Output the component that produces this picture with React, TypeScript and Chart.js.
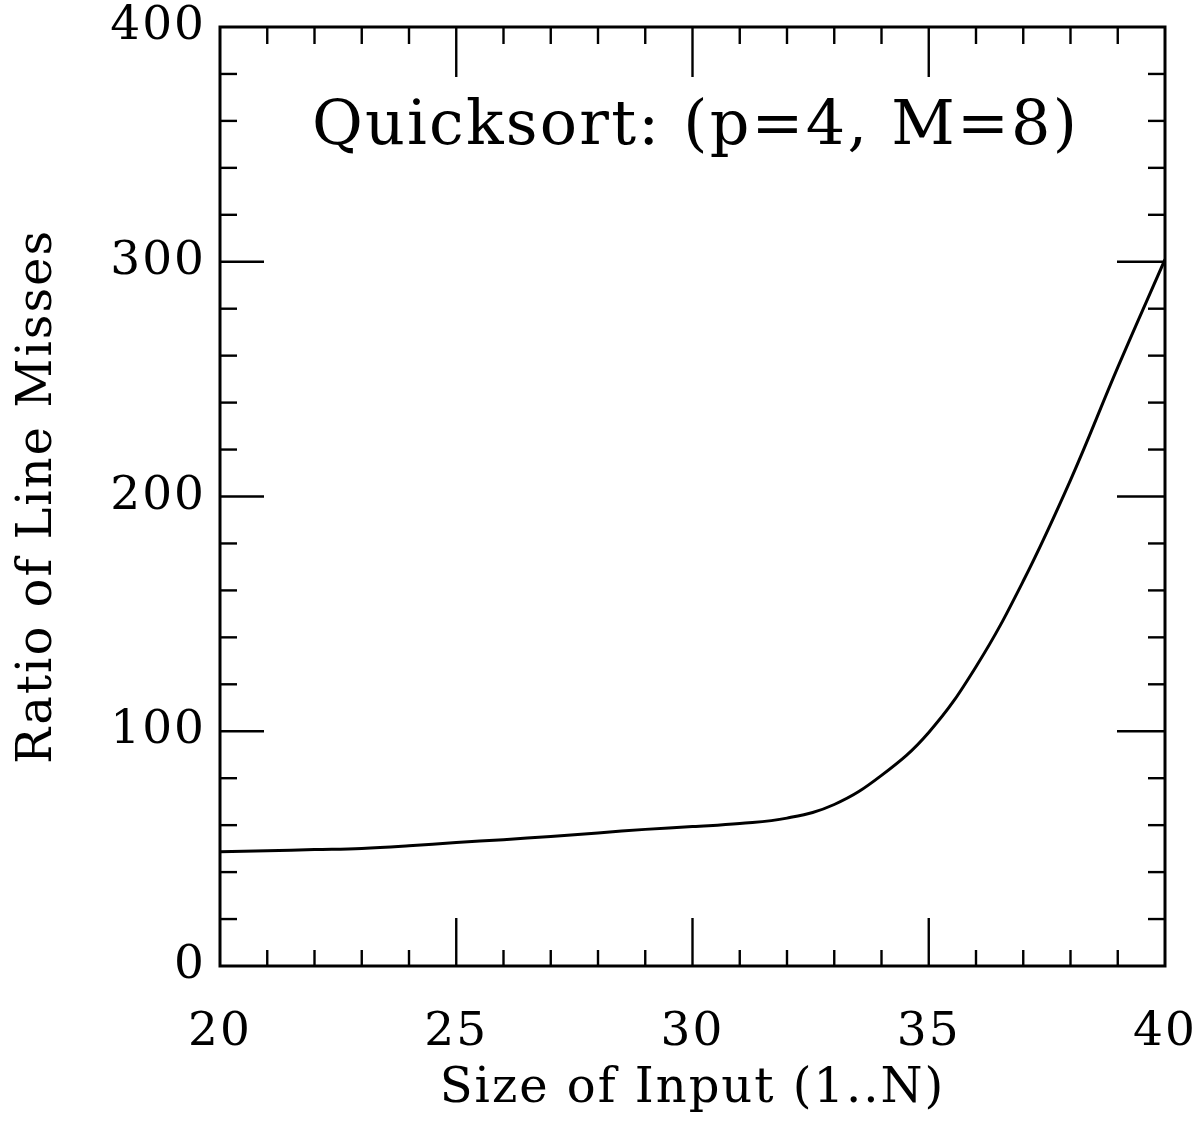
import React, { useEffect, useRef } from 'react';
import { Chart, registerables } from 'chart.js';

Chart.register(...registerables);

const sizes = [20, 21, 22, 23, 24, 25, 26, 27, 28, 29, 30, 31, 32, 33, 34, 35, 36, 37, 38, 39, 40];
const ratios = [48.7, 49.1, 49.6, 50.1, 51.2, 52.6, 53.8, 55.2, 56.7, 58.2, 59.4, 60.7, 63.0, 68.8, 81.2, 99.5, 127.5, 164, 207, 255, 301];
const xMajorEvery = 5;
const yMajorEvery = 100;
const titleText = 'Quicksort: (p=4, M=8)';
const xTitle = 'Size of Input (1..N)';
const yTitle = 'Ratio of Line Misses';

const FONT = '"DejaVu Serif", "Liberation Serif", serif';

const spacing = {
  id: 'spacing',
  beforeDraw(chart: any) {
    chart.ctx.letterSpacing = '2px';
  },
  afterDraw(chart: any) {
    chart.ctx.letterSpacing = '0px';
  },
};

const frameTicks = {
  id: 'frameTicks',
  afterDraw(chart: any) {
    const { ctx, chartArea, scales } = chart;
    const { left, right, top, bottom } = chartArea;
    const x = scales.x;
    const y = scales.y;
    ctx.save();
    ctx.strokeStyle = '#000';
    ctx.lineCap = 'butt';
    ctx.lineWidth = 2.4;
    const seg = (x1: number, y1: number, x2: number, y2: number) => {
      ctx.beginPath();
      ctx.moveTo(x1, y1);
      ctx.lineTo(x2, y2);
      ctx.stroke();
    };
    x.ticks.forEach((t: any) => {
      if (t.value <= x.min || t.value >= x.max) return;
      const px = x.getPixelForValue(t.value);
      const major = t.value % xMajorEvery === 0;
      seg(px, bottom, px, bottom - (major ? 48 : 16));
      seg(px, top, px, top + (major ? 50 : 17));
    });
    y.ticks.forEach((t: any) => {
      if (t.value <= y.min || t.value >= y.max) return;
      const py = y.getPixelForValue(t.value);
      const major = t.value % yMajorEvery === 0;
      seg(left, py, left + (major ? 44 : 17), py);
      seg(right, py, right - (major ? 48 : 17), py);
    });
    ctx.lineWidth = 3;
    ctx.strokeRect(left, top, right - left, bottom - top);
    ctx.fillStyle = '#000';
    ctx.font = `62px ${FONT}`;
    ctx.letterSpacing = '2.2px';
    ctx.textAlign = 'center';
    ctx.textBaseline = 'alphabetic';
    ctx.fillText(titleText, (left + right) / 2 + 3, 144);
    ctx.restore();
  },
};

export default function App() {
  const ref = useRef<HTMLCanvasElement | null>(null);
  useEffect(() => {
    document.body.style.margin = '0';
    const canvas = ref.current;
    if (!canvas) return;
    const chart = new Chart(canvas, {
      type: 'line',
      data: {
        datasets: [
          {
            data: sizes.map((s, i) => ({ x: s, y: ratios[i] })),
            borderColor: '#000',
            borderWidth: 3,
            pointRadius: 0,
            fill: false,
            tension: 0.4,
          },
        ],
      },
      options: {
        responsive: false,
        animation: false,
        layout: { padding: { left: 0, right: 33, top: 27, bottom: 0 } },
        plugins: { legend: { display: false }, tooltip: { enabled: false }, title: { display: false } },
        scales: {
          x: {
            type: 'linear',
            min: 20,
            max: 40,
            grid: { display: false },
            border: { display: false },
            ticks: {
              stepSize: 1,
              autoSkip: false,
              maxRotation: 0,
              padding: 31,
              color: '#000',
              font: { family: FONT, size: 47 },
              callback: (v: any) => (Number(v) % xMajorEvery === 0 ? String(v) : ''),
            },
            title: {
              display: true,
              text: xTitle,
              color: '#000',
              font: { family: FONT, size: 48 },
              padding: { top: 0, bottom: 6 },
            },
            afterFit: (s: any) => {
              s.height = 158;
              s.paddingLeft = 0;
              s.paddingRight = 0;
            },
          },
          y: {
            type: 'linear',
            min: 0,
            max: 400,
            grid: { display: false },
            border: { display: false },
            ticks: {
              stepSize: 20,
              autoSkip: false,
              padding: 6,
              color: '#000',
              font: { family: FONT, size: 47 },
              callback: (v: any) => (Number(v) % yMajorEvery === 0 ? String(v) : ''),
            },
            title: {
              display: true,
              text: yTitle,
              color: '#000',
              font: { family: FONT, size: 48 },
              padding: { top: 10, bottom: 0 },
            },
            afterFit: (s: any) => {
              s.width = 220;
              s.paddingTop = 0;
              s.paddingBottom = 0;
            },
          },
        },
      },
      plugins: [spacing, frameTicks],
    });
    return () => chart.destroy();
  }, []);
  return (
    <div style={{ width: 1198, height: 1124, background: '#fff' }}>
      <canvas ref={ref} width={1198} height={1124} style={{ display: 'block' }} />
    </div>
  );
}
